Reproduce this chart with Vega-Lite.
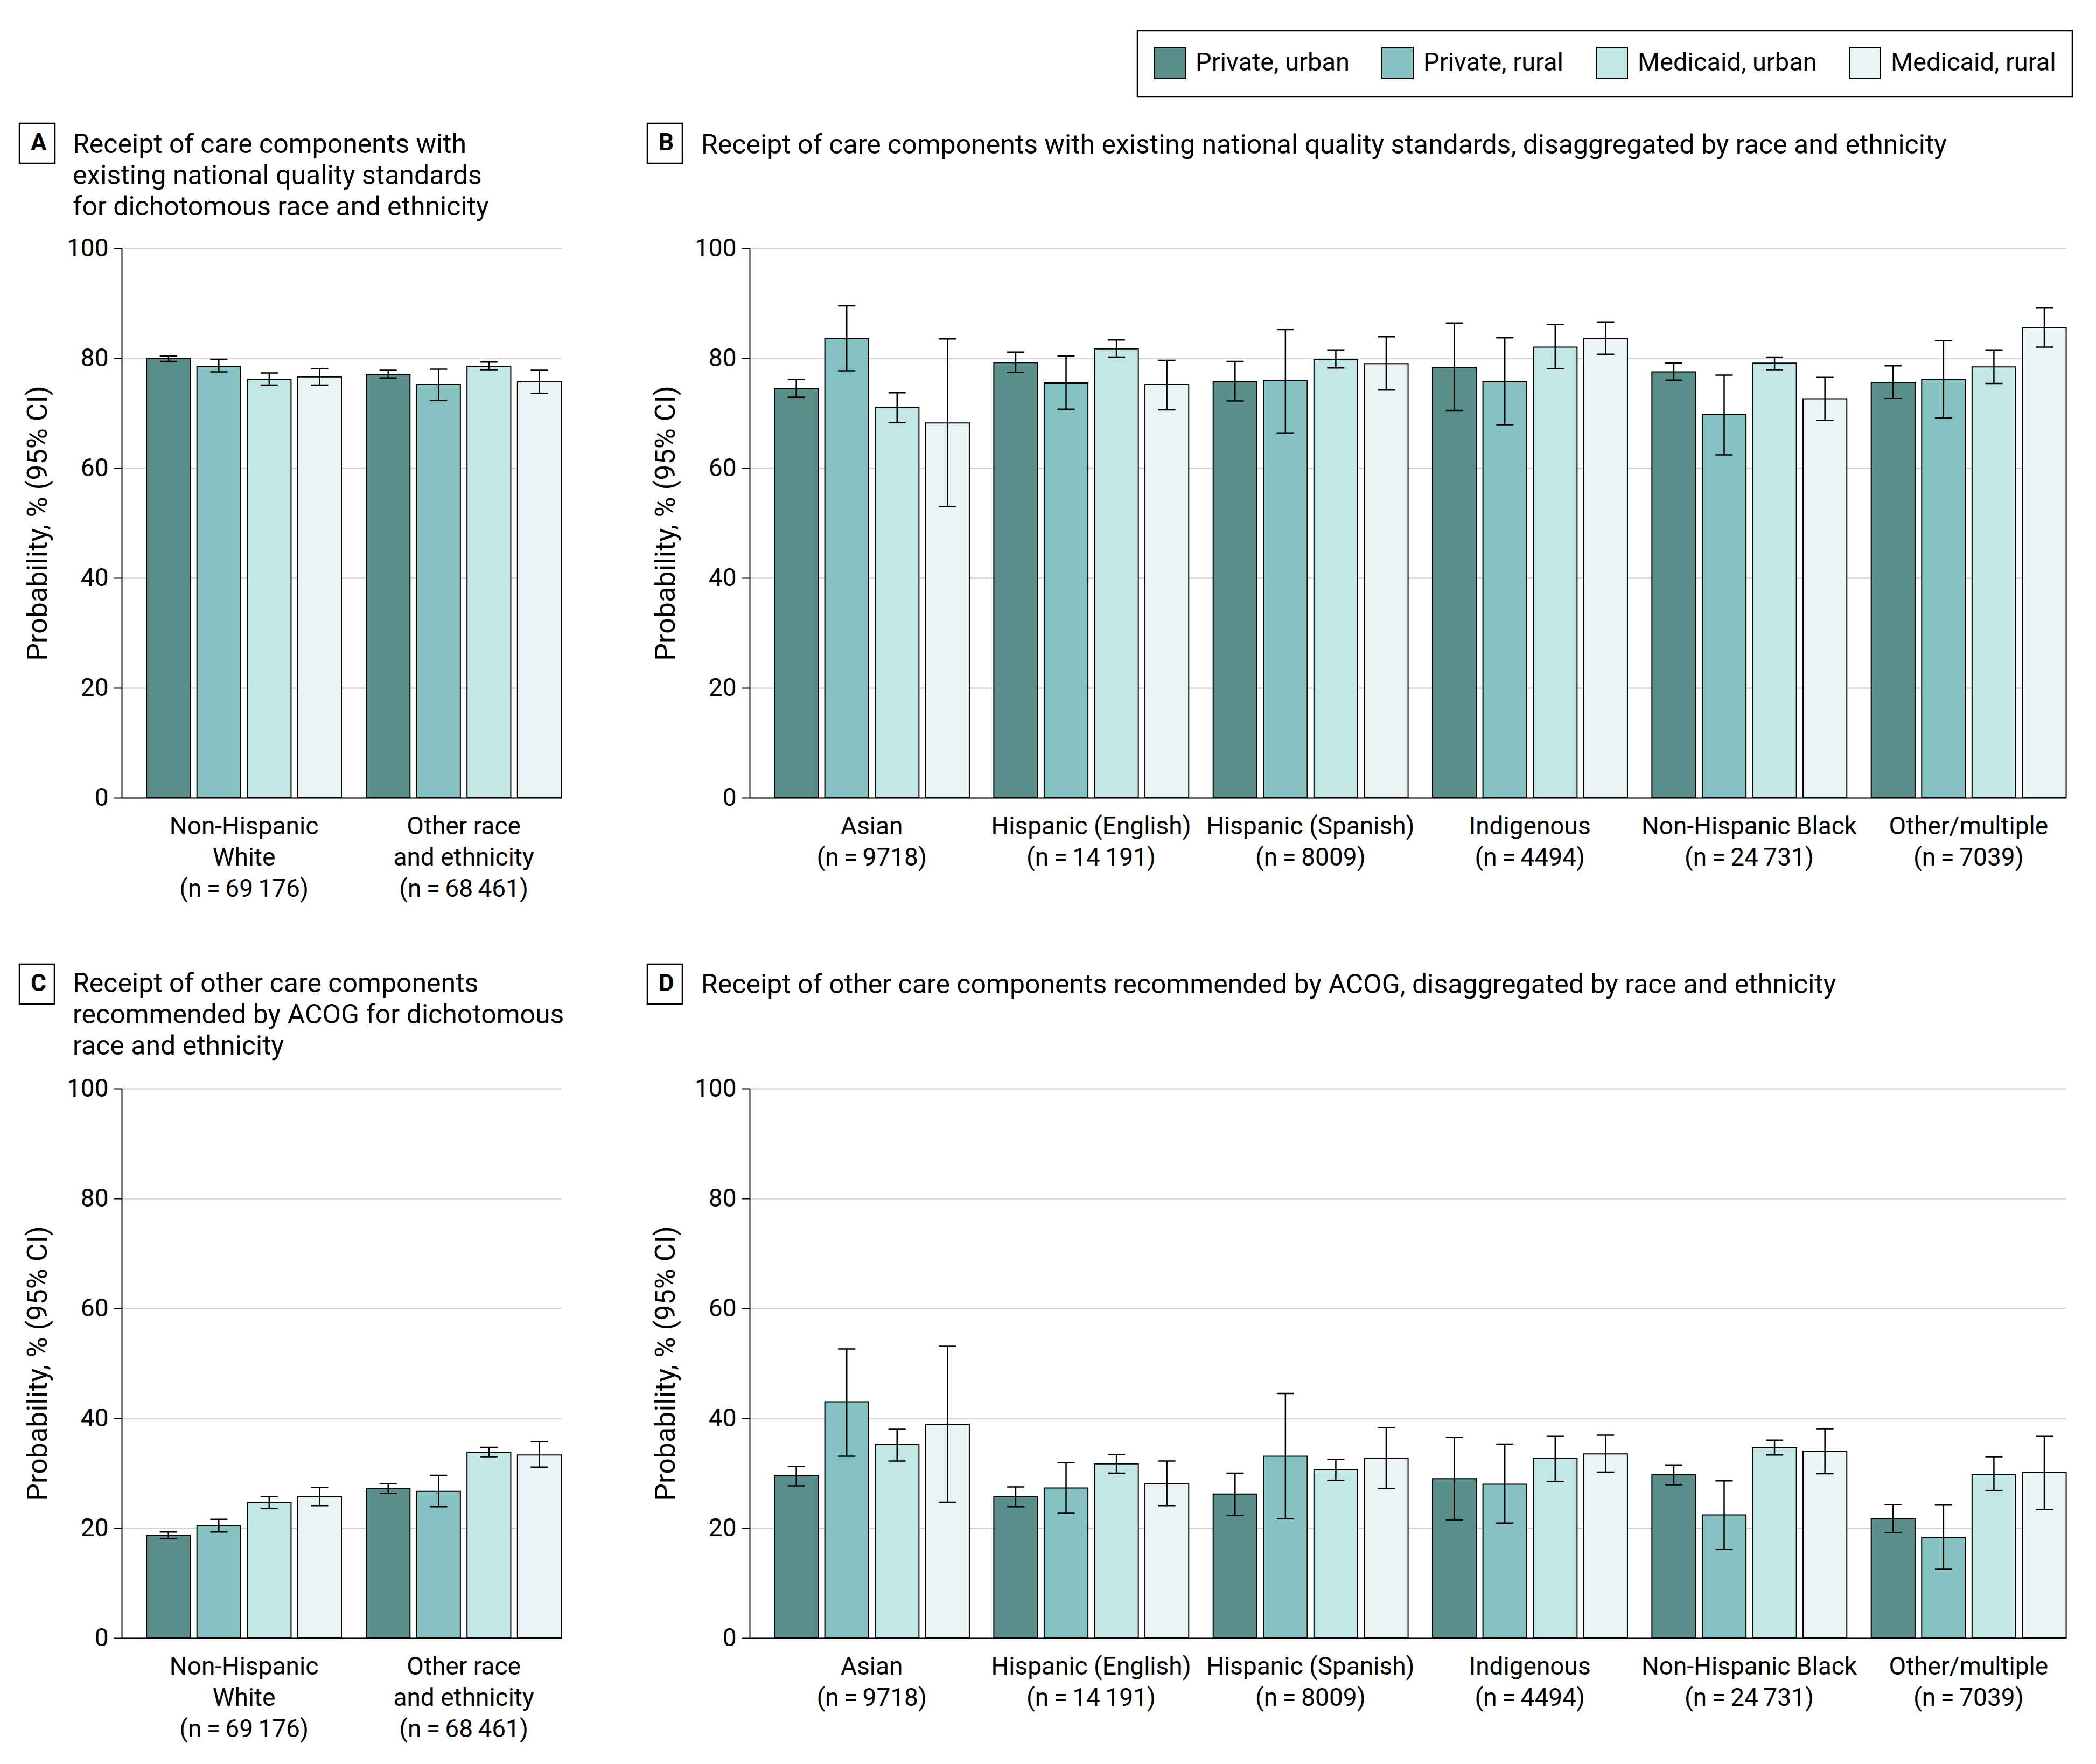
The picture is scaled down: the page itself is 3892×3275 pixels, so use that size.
{
  "$schema": "https://vega.github.io/schema/vega-lite/v6.json",
  "background": "white",
  "padding": {"left": 34, "top": 55, "right": 10, "bottom": 10},
  "config": {
    "font": "Roboto, sans-serif",
    "view": {"stroke": null},
    "axis": {"labelColor": "black", "titleColor": "black", "labelFontSize": 46, "titleFontSize": 52, "titleFontWeight": "normal", "domainColor": "black", "domainWidth": 2, "tickColor": "black", "tickWidth": 2},
    "axisX": {"ticks": false, "labelAngle": 0, "labelLineHeight": 58, "labelPadding": 31, "labelLimit": 0, "grid": false},
    "axisY": {"tickSize": 15, "labelPadding": 10, "gridColor": "#d9d9d9", "gridWidth": 3, "titlePadding": 26},
    "title": {"fontSize": 50, "fontWeight": "normal", "anchor": "start", "frame": "group", "lineHeight": 58, "color": "black", "baseline": "bottom"},
    "legend": {"labelColor": "black", "strokeWidth": 2.5}
  },
  "datasets": {
    "std_dich": [
      {"group": "Non-Hispanic|White|(n\u2009=\u200969\u2009176)", "type": "Private, urban", "p": 79.9, "lo": 79.4, "hi": 80.4},
      {"group": "Non-Hispanic|White|(n\u2009=\u200969\u2009176)", "type": "Private, rural", "p": 78.5, "lo": 77.5, "hi": 79.8},
      {"group": "Non-Hispanic|White|(n\u2009=\u200969\u2009176)", "type": "Medicaid, urban", "p": 76.1, "lo": 75.1, "hi": 77.3},
      {"group": "Non-Hispanic|White|(n\u2009=\u200969\u2009176)", "type": "Medicaid, rural", "p": 76.6, "lo": 75.1, "hi": 78.1},
      {"group": "Other race|and ethnicity|(n\u2009=\u200968\u2009461)", "type": "Private, urban", "p": 77.0, "lo": 76.4, "hi": 77.8},
      {"group": "Other race|and ethnicity|(n\u2009=\u200968\u2009461)", "type": "Private, rural", "p": 75.2, "lo": 72.3, "hi": 78.0},
      {"group": "Other race|and ethnicity|(n\u2009=\u200968\u2009461)", "type": "Medicaid, urban", "p": 78.5, "lo": 77.9, "hi": 79.3},
      {"group": "Other race|and ethnicity|(n\u2009=\u200968\u2009461)", "type": "Medicaid, rural", "p": 75.7, "lo": 73.6, "hi": 77.8}
    ],
    "std_race": [
      {"group": "Asian|(n\u2009=\u20099718)", "type": "Private, urban", "p": 74.5, "lo": 72.9, "hi": 76.1},
      {"group": "Asian|(n\u2009=\u20099718)", "type": "Private, rural", "p": 83.6, "lo": 77.7, "hi": 89.5},
      {"group": "Asian|(n\u2009=\u20099718)", "type": "Medicaid, urban", "p": 71.0, "lo": 68.3, "hi": 73.7},
      {"group": "Asian|(n\u2009=\u20099718)", "type": "Medicaid, rural", "p": 68.2, "lo": 53.0, "hi": 83.5},
      {"group": "Hispanic (English)|(n\u2009=\u200914\u2009191)", "type": "Private, urban", "p": 79.2, "lo": 77.4, "hi": 81.1},
      {"group": "Hispanic (English)|(n\u2009=\u200914\u2009191)", "type": "Private, rural", "p": 75.5, "lo": 70.7, "hi": 80.4},
      {"group": "Hispanic (English)|(n\u2009=\u200914\u2009191)", "type": "Medicaid, urban", "p": 81.7, "lo": 80.2, "hi": 83.3},
      {"group": "Hispanic (English)|(n\u2009=\u200914\u2009191)", "type": "Medicaid, rural", "p": 75.2, "lo": 70.6, "hi": 79.6},
      {"group": "Hispanic (Spanish)|(n\u2009=\u20098009)", "type": "Private, urban", "p": 75.7, "lo": 72.2, "hi": 79.4},
      {"group": "Hispanic (Spanish)|(n\u2009=\u20098009)", "type": "Private, rural", "p": 75.9, "lo": 66.4, "hi": 85.2},
      {"group": "Hispanic (Spanish)|(n\u2009=\u20098009)", "type": "Medicaid, urban", "p": 79.8, "lo": 78.2, "hi": 81.5},
      {"group": "Hispanic (Spanish)|(n\u2009=\u20098009)", "type": "Medicaid, rural", "p": 79.0, "lo": 74.3, "hi": 83.9},
      {"group": "Indigenous|(n\u2009=\u20094494)", "type": "Private, urban", "p": 78.3, "lo": 70.5, "hi": 86.4},
      {"group": "Indigenous|(n\u2009=\u20094494)", "type": "Private, rural", "p": 75.7, "lo": 67.9, "hi": 83.7},
      {"group": "Indigenous|(n\u2009=\u20094494)", "type": "Medicaid, urban", "p": 82.0, "lo": 78.1, "hi": 86.1},
      {"group": "Indigenous|(n\u2009=\u20094494)", "type": "Medicaid, rural", "p": 83.6, "lo": 80.7, "hi": 86.6},
      {"group": "Non-Hispanic Black|(n\u2009=\u200924\u2009731)", "type": "Private, urban", "p": 77.5, "lo": 76.0, "hi": 79.1},
      {"group": "Non-Hispanic Black|(n\u2009=\u200924\u2009731)", "type": "Private, rural", "p": 69.8, "lo": 62.4, "hi": 76.9},
      {"group": "Non-Hispanic Black|(n\u2009=\u200924\u2009731)", "type": "Medicaid, urban", "p": 79.1, "lo": 77.9, "hi": 80.2},
      {"group": "Non-Hispanic Black|(n\u2009=\u200924\u2009731)", "type": "Medicaid, rural", "p": 72.6, "lo": 68.7, "hi": 76.5},
      {"group": "Other/multiple|(n\u2009=\u20097039)", "type": "Private, urban", "p": 75.6, "lo": 72.7, "hi": 78.6},
      {"group": "Other/multiple|(n\u2009=\u20097039)", "type": "Private, rural", "p": 76.1, "lo": 69.1, "hi": 83.2},
      {"group": "Other/multiple|(n\u2009=\u20097039)", "type": "Medicaid, urban", "p": 78.4, "lo": 75.4, "hi": 81.5},
      {"group": "Other/multiple|(n\u2009=\u20097039)", "type": "Medicaid, rural", "p": 85.6, "lo": 82.0, "hi": 89.2}
    ],
    "oth_dich": [
      {"group": "Non-Hispanic|White|(n\u2009=\u200969\u2009176)", "type": "Private, urban", "p": 18.7, "lo": 18.1, "hi": 19.3},
      {"group": "Non-Hispanic|White|(n\u2009=\u200969\u2009176)", "type": "Private, rural", "p": 20.4, "lo": 19.3, "hi": 21.6},
      {"group": "Non-Hispanic|White|(n\u2009=\u200969\u2009176)", "type": "Medicaid, urban", "p": 24.6, "lo": 23.6, "hi": 25.7},
      {"group": "Non-Hispanic|White|(n\u2009=\u200969\u2009176)", "type": "Medicaid, rural", "p": 25.7, "lo": 24.1, "hi": 27.4},
      {"group": "Other race|and ethnicity|(n\u2009=\u200968\u2009461)", "type": "Private, urban", "p": 27.2, "lo": 26.3, "hi": 28.1},
      {"group": "Other race|and ethnicity|(n\u2009=\u200968\u2009461)", "type": "Private, rural", "p": 26.7, "lo": 23.9, "hi": 29.6},
      {"group": "Other race|and ethnicity|(n\u2009=\u200968\u2009461)", "type": "Medicaid, urban", "p": 33.8, "lo": 33.0, "hi": 34.7},
      {"group": "Other race|and ethnicity|(n\u2009=\u200968\u2009461)", "type": "Medicaid, rural", "p": 33.3, "lo": 31.1, "hi": 35.7}
    ],
    "oth_race": [
      {"group": "Asian|(n\u2009=\u20099718)", "type": "Private, urban", "p": 29.6, "lo": 27.7, "hi": 31.2},
      {"group": "Asian|(n\u2009=\u20099718)", "type": "Private, rural", "p": 43.0, "lo": 33.1, "hi": 52.6},
      {"group": "Asian|(n\u2009=\u20099718)", "type": "Medicaid, urban", "p": 35.2, "lo": 32.2, "hi": 38.0},
      {"group": "Asian|(n\u2009=\u20099718)", "type": "Medicaid, rural", "p": 38.9, "lo": 24.7, "hi": 53.1},
      {"group": "Hispanic (English)|(n\u2009=\u200914\u2009191)", "type": "Private, urban", "p": 25.7, "lo": 23.9, "hi": 27.5},
      {"group": "Hispanic (English)|(n\u2009=\u200914\u2009191)", "type": "Private, rural", "p": 27.3, "lo": 22.7, "hi": 31.9},
      {"group": "Hispanic (English)|(n\u2009=\u200914\u2009191)", "type": "Medicaid, urban", "p": 31.7, "lo": 30.0, "hi": 33.4},
      {"group": "Hispanic (English)|(n\u2009=\u200914\u2009191)", "type": "Medicaid, rural", "p": 28.1, "lo": 24.1, "hi": 32.2},
      {"group": "Hispanic (Spanish)|(n\u2009=\u20098009)", "type": "Private, urban", "p": 26.2, "lo": 22.3, "hi": 30.0},
      {"group": "Hispanic (Spanish)|(n\u2009=\u20098009)", "type": "Private, rural", "p": 33.1, "lo": 21.7, "hi": 44.5},
      {"group": "Hispanic (Spanish)|(n\u2009=\u20098009)", "type": "Medicaid, urban", "p": 30.6, "lo": 28.7, "hi": 32.5},
      {"group": "Hispanic (Spanish)|(n\u2009=\u20098009)", "type": "Medicaid, rural", "p": 32.7, "lo": 27.2, "hi": 38.3},
      {"group": "Indigenous|(n\u2009=\u20094494)", "type": "Private, urban", "p": 29.0, "lo": 21.5, "hi": 36.5},
      {"group": "Indigenous|(n\u2009=\u20094494)", "type": "Private, rural", "p": 28.0, "lo": 20.9, "hi": 35.3},
      {"group": "Indigenous|(n\u2009=\u20094494)", "type": "Medicaid, urban", "p": 32.7, "lo": 28.5, "hi": 36.7},
      {"group": "Indigenous|(n\u2009=\u20094494)", "type": "Medicaid, rural", "p": 33.5, "lo": 30.2, "hi": 36.9},
      {"group": "Non-Hispanic Black|(n\u2009=\u200924\u2009731)", "type": "Private, urban", "p": 29.7, "lo": 27.9, "hi": 31.5},
      {"group": "Non-Hispanic Black|(n\u2009=\u200924\u2009731)", "type": "Private, rural", "p": 22.4, "lo": 16.1, "hi": 28.6},
      {"group": "Non-Hispanic Black|(n\u2009=\u200924\u2009731)", "type": "Medicaid, urban", "p": 34.6, "lo": 33.3, "hi": 36.0},
      {"group": "Non-Hispanic Black|(n\u2009=\u200924\u2009731)", "type": "Medicaid, rural", "p": 34.0, "lo": 29.9, "hi": 38.1},
      {"group": "Other/multiple|(n\u2009=\u20097039)", "type": "Private, urban", "p": 21.7, "lo": 19.2, "hi": 24.3},
      {"group": "Other/multiple|(n\u2009=\u20097039)", "type": "Private, rural", "p": 18.3, "lo": 12.5, "hi": 24.2},
      {"group": "Other/multiple|(n\u2009=\u20097039)", "type": "Medicaid, urban", "p": 29.8, "lo": 26.8, "hi": 33.0},
      {"group": "Other/multiple|(n\u2009=\u20097039)", "type": "Medicaid, rural", "p": 30.1, "lo": 23.4, "hi": 36.7}
    ]
  },
  "resolve": {"scale": {"strokeDash": "independent"}, "legend": {"strokeDash": "independent"}},
  "columns": 2,
  "bounds": "flush",
  "spacing": {"row": 540, "column": 350},
  "concat": [
    {
      "width": 816, "height": 1020,
      "data": {"name": "std_dich"},
      "title": {"text": ["Receipt of care components with", "existing national quality standards", "for dichotomous race and ethnicity"], "offset": -182, "dx": -91},
      "encoding": {
        "x": {"field": "group", "type": "nominal", "sort": ["Non-Hispanic|White|(n\u2009=\u200969\u2009176)", "Other race|and ethnicity|(n\u2009=\u200968\u2009461)"], "scale": {"paddingInner": 0.113, "paddingOuter": 0.0565, "align": 1}, "axis": {"title": null, "labelExpr": "split(datum.label, '|')"}},
        "xOffset": {"field": "type", "type": "nominal", "sort": ["Private, urban", "Private, rural", "Medicaid, urban", "Medicaid, rural"], "scale": {"paddingInner": 0.132, "paddingOuter": 0}}
      },
      "layer": [
        {"mark": {"type": "bar", "stroke": "black", "strokeWidth": 2},
         "encoding": {
           "y": {"field": "p", "type": "quantitative", "title": "Probability, % (95% CI)", "scale": {"domain": [0, 100]}, "axis": {"values": [0, 20, 40, 60, 80, 100]}},
           "color": {"field": "type", "type": "nominal", "scale": {"domain": ["Private, urban", "Private, rural", "Medicaid, urban", "Medicaid, rural"], "range": ["#598e8b", "#86c2c1", "#c2e7e6", "#eaf4f5"]},
             "legend": {"title": null, "orient": "none", "legendX": 1886, "legendY": -404, "direction": "horizontal", "columns": 4, "symbolType": "square", "symbolSize": 3364, "symbolStrokeColor": "black", "symbolStrokeWidth": 2, "symbolOpacity": 1, "labelFontSize": 47, "labelOffset": 18, "columnPadding": 56, "padding": 30, "strokeColor": "black", "labelLimit": 1000}}
         }},
        {"mark": {"type": "rule", "color": "black", "strokeWidth": 2.5},
         "encoding": {
           "y": {"field": "lo", "type": "quantitative", "title": "Probability, % (95% CI)"}, "y2": {"field": "hi"},
           "strokeDash": {"datum": "A", "scale": {"range": [[1, 0]]}, "legend": {"title": null, "orient": "none", "legendX": -190, "legendY": -232, "symbolType": "circle", "symbolSize": 0, "symbolOpacity": 0, "symbolStrokeWidth": 0, "labelFontSize": 44, "labelFontWeight": "bold", "labelOffset": -38, "padding": 15, "strokeColor": "black"}}
         }},
        {"mark": {"type": "tick", "color": "black", "size": 32, "thickness": 2.5, "opacity": 1},
         "encoding": {"y": {"field": "lo", "type": "quantitative", "title": "Probability, % (95% CI)"}}},
        {"mark": {"type": "tick", "color": "black", "size": 32, "thickness": 2.5, "opacity": 1},
         "encoding": {"y": {"field": "hi", "type": "quantitative", "title": "Probability, % (95% CI)"}}}
      ]
    },
    {
      "width": 2444, "height": 1020,
      "data": {"name": "std_race"},
      "title": {"text": "Receipt of care components with existing national quality standards, disaggregated by race and ethnicity", "offset": -67, "dx": -90},
      "encoding": {
        "x": {"field": "group", "type": "nominal", "sort": ["Asian|(n\u2009=\u20099718)", "Hispanic (English)|(n\u2009=\u200914\u2009191)", "Hispanic (Spanish)|(n\u2009=\u20098009)", "Indigenous|(n\u2009=\u20094494)", "Non-Hispanic Black|(n\u2009=\u200924\u2009731)", "Other/multiple|(n\u2009=\u20097039)"], "scale": {"paddingInner": 0.113, "paddingOuter": 0.0565, "align": 1}, "axis": {"title": null, "labelExpr": "split(datum.label, '|')"}},
        "xOffset": {"field": "type", "type": "nominal", "sort": ["Private, urban", "Private, rural", "Medicaid, urban", "Medicaid, rural"], "scale": {"paddingInner": 0.132, "paddingOuter": 0}}
      },
      "layer": [
        {"mark": {"type": "bar", "stroke": "black", "strokeWidth": 2},
         "encoding": {
           "y": {"field": "p", "type": "quantitative", "title": "Probability, % (95% CI)", "scale": {"domain": [0, 100]}, "axis": {"values": [0, 20, 40, 60, 80, 100]}},
           "color": {"field": "type", "type": "nominal", "scale": {"domain": ["Private, urban", "Private, rural", "Medicaid, urban", "Medicaid, rural"], "range": ["#598e8b", "#86c2c1", "#c2e7e6", "#eaf4f5"]},
             "legend": {"title": null, "orient": "none", "legendX": 1886, "legendY": -404, "direction": "horizontal", "columns": 4, "symbolType": "square", "symbolSize": 3364, "symbolStrokeColor": "black", "symbolStrokeWidth": 2, "symbolOpacity": 1, "labelFontSize": 47, "labelOffset": 18, "columnPadding": 56, "padding": 30, "strokeColor": "black", "labelLimit": 1000}}
         }},
        {"mark": {"type": "rule", "color": "black", "strokeWidth": 2.5},
         "encoding": {
           "y": {"field": "lo", "type": "quantitative", "title": "Probability, % (95% CI)"}, "y2": {"field": "hi"},
           "strokeDash": {"datum": "B", "scale": {"range": [[1, 0]]}, "legend": {"title": null, "orient": "none", "legendX": -190, "legendY": -232, "symbolType": "circle", "symbolSize": 0, "symbolOpacity": 0, "symbolStrokeWidth": 0, "labelFontSize": 44, "labelFontWeight": "bold", "labelOffset": -38, "padding": 15, "strokeColor": "black"}}
         }},
        {"mark": {"type": "tick", "color": "black", "size": 32, "thickness": 2.5, "opacity": 1},
         "encoding": {"y": {"field": "lo", "type": "quantitative", "title": "Probability, % (95% CI)"}}},
        {"mark": {"type": "tick", "color": "black", "size": 32, "thickness": 2.5, "opacity": 1},
         "encoding": {"y": {"field": "hi", "type": "quantitative", "title": "Probability, % (95% CI)"}}}
      ]
    },
    {
      "width": 816, "height": 1020,
      "data": {"name": "oth_dich"},
      "title": {"text": ["Receipt of other care components", "recommended by ACOG for dichotomous", "race and ethnicity"], "offset": -179, "dx": -91},
      "encoding": {
        "x": {"field": "group", "type": "nominal", "sort": ["Non-Hispanic|White|(n\u2009=\u200969\u2009176)", "Other race|and ethnicity|(n\u2009=\u200968\u2009461)"], "scale": {"paddingInner": 0.113, "paddingOuter": 0.0565, "align": 1}, "axis": {"title": null, "labelExpr": "split(datum.label, '|')"}},
        "xOffset": {"field": "type", "type": "nominal", "sort": ["Private, urban", "Private, rural", "Medicaid, urban", "Medicaid, rural"], "scale": {"paddingInner": 0.132, "paddingOuter": 0}}
      },
      "layer": [
        {"mark": {"type": "bar", "stroke": "black", "strokeWidth": 2},
         "encoding": {
           "y": {"field": "p", "type": "quantitative", "title": "Probability, % (95% CI)", "scale": {"domain": [0, 100]}, "axis": {"values": [0, 20, 40, 60, 80, 100]}},
           "color": {"field": "type", "type": "nominal", "scale": {"domain": ["Private, urban", "Private, rural", "Medicaid, urban", "Medicaid, rural"], "range": ["#598e8b", "#86c2c1", "#c2e7e6", "#eaf4f5"]},
             "legend": {"title": null, "orient": "none", "legendX": 1886, "legendY": -404, "direction": "horizontal", "columns": 4, "symbolType": "square", "symbolSize": 3364, "symbolStrokeColor": "black", "symbolStrokeWidth": 2, "symbolOpacity": 1, "labelFontSize": 47, "labelOffset": 18, "columnPadding": 56, "padding": 30, "strokeColor": "black", "labelLimit": 1000}}
         }},
        {"mark": {"type": "rule", "color": "black", "strokeWidth": 2.5},
         "encoding": {
           "y": {"field": "lo", "type": "quantitative", "title": "Probability, % (95% CI)"}, "y2": {"field": "hi"},
           "strokeDash": {"datum": "C", "scale": {"range": [[1, 0]]}, "legend": {"title": null, "orient": "none", "legendX": -190, "legendY": -231, "symbolType": "circle", "symbolSize": 0, "symbolOpacity": 0, "symbolStrokeWidth": 0, "labelFontSize": 44, "labelFontWeight": "bold", "labelOffset": -38, "padding": 15, "strokeColor": "black"}}
         }},
        {"mark": {"type": "tick", "color": "black", "size": 32, "thickness": 2.5, "opacity": 1},
         "encoding": {"y": {"field": "lo", "type": "quantitative", "title": "Probability, % (95% CI)"}}},
        {"mark": {"type": "tick", "color": "black", "size": 32, "thickness": 2.5, "opacity": 1},
         "encoding": {"y": {"field": "hi", "type": "quantitative", "title": "Probability, % (95% CI)"}}}
      ]
    },
    {
      "width": 2444, "height": 1020,
      "data": {"name": "oth_race"},
      "title": {"text": "Receipt of other care components recommended by ACOG, disaggregated by race and ethnicity", "offset": -65, "dx": -90},
      "encoding": {
        "x": {"field": "group", "type": "nominal", "sort": ["Asian|(n\u2009=\u20099718)", "Hispanic (English)|(n\u2009=\u200914\u2009191)", "Hispanic (Spanish)|(n\u2009=\u20098009)", "Indigenous|(n\u2009=\u20094494)", "Non-Hispanic Black|(n\u2009=\u200924\u2009731)", "Other/multiple|(n\u2009=\u20097039)"], "scale": {"paddingInner": 0.113, "paddingOuter": 0.0565, "align": 1}, "axis": {"title": null, "labelExpr": "split(datum.label, '|')"}},
        "xOffset": {"field": "type", "type": "nominal", "sort": ["Private, urban", "Private, rural", "Medicaid, urban", "Medicaid, rural"], "scale": {"paddingInner": 0.132, "paddingOuter": 0}}
      },
      "layer": [
        {"mark": {"type": "bar", "stroke": "black", "strokeWidth": 2},
         "encoding": {
           "y": {"field": "p", "type": "quantitative", "title": "Probability, % (95% CI)", "scale": {"domain": [0, 100]}, "axis": {"values": [0, 20, 40, 60, 80, 100]}},
           "color": {"field": "type", "type": "nominal", "scale": {"domain": ["Private, urban", "Private, rural", "Medicaid, urban", "Medicaid, rural"], "range": ["#598e8b", "#86c2c1", "#c2e7e6", "#eaf4f5"]},
             "legend": {"title": null, "orient": "none", "legendX": 1886, "legendY": -404, "direction": "horizontal", "columns": 4, "symbolType": "square", "symbolSize": 3364, "symbolStrokeColor": "black", "symbolStrokeWidth": 2, "symbolOpacity": 1, "labelFontSize": 47, "labelOffset": 18, "columnPadding": 56, "padding": 30, "strokeColor": "black", "labelLimit": 1000}}
         }},
        {"mark": {"type": "rule", "color": "black", "strokeWidth": 2.5},
         "encoding": {
           "y": {"field": "lo", "type": "quantitative", "title": "Probability, % (95% CI)"}, "y2": {"field": "hi"},
           "strokeDash": {"datum": "D", "scale": {"range": [[1, 0]]}, "legend": {"title": null, "orient": "none", "legendX": -190, "legendY": -231, "symbolType": "circle", "symbolSize": 0, "symbolOpacity": 0, "symbolStrokeWidth": 0, "labelFontSize": 44, "labelFontWeight": "bold", "labelOffset": -38, "padding": 15, "strokeColor": "black"}}
         }},
        {"mark": {"type": "tick", "color": "black", "size": 32, "thickness": 2.5, "opacity": 1},
         "encoding": {"y": {"field": "lo", "type": "quantitative", "title": "Probability, % (95% CI)"}}},
        {"mark": {"type": "tick", "color": "black", "size": 32, "thickness": 2.5, "opacity": 1},
         "encoding": {"y": {"field": "hi", "type": "quantitative", "title": "Probability, % (95% CI)"}}}
      ]
    }
  ]
}
